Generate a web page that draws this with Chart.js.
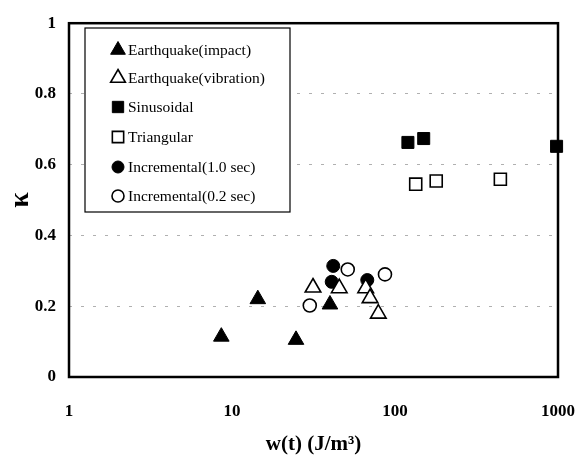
<!DOCTYPE html>
<html>
<head>
<meta charset="utf-8">
<script src="https://cdn.jsdelivr.net/npm/chart.js@4/dist/chart.umd.min.js"></script>
<style>
  html, body { margin: 0; padding: 0; background: #fff; }
  #wrap { width: 583px; height: 461px; }
</style>
</head>
<body>
<div id="wrap"><canvas id="kChart" width="583" height="461"></canvas></div>
<script>
// w(t) in J/m^3, kappa values
const quakeImpactW = [8.6, 14.4, 24.7, 39.9];
const quakeImpactK = [0.114, 0.220, 0.105, 0.205];
const quakeVibW = [31.4, 45.5, 66.1, 70.3, 79.0];
const quakeVibK = [0.253, 0.251, 0.251, 0.223, 0.179];
const sineW = [120, 150, 980];
const sineK = [0.663, 0.674, 0.652];
const triW = [134, 179, 443];
const triK = [0.545, 0.554, 0.559];
const incr10W = [41.8, 40.9, 67.6];
const incr10K = [0.314, 0.269, 0.274];
const incr02W = [30.0, 51.3, 86.8];
const incr02K = [0.202, 0.304, 0.290];

const xTicks = [1, 10, 100, 1000];
const yTicks = [0, 0.2, 0.4, 0.6, 0.8, 1];

function pts(xs, ys) {
    return xs.map((x, i) => ({ x: x, y: ys[i] }));
}

function series(label, xs, ys, style, filled, radius) {
    return {
        label: label,
        data: pts(xs, ys),
        pointStyle: style,
        pointRadius: radius,
        pointHoverRadius: radius,
        pointBackgroundColor: filled ? '#000' : '#fff',
        pointBorderColor: '#000',
        pointBorderWidth: filled ? 1 : 1.6,
        showLine: false,
        clip: false
    };
}

const frameAndLegend = {
    id: 'frameAndLegend',
    beforeDatasetsDraw(chart) {
        const a = chart.chartArea;
        const ctx = chart.ctx;
        ctx.save();
        ctx.strokeStyle = '#000';
        ctx.lineWidth = 2.5;
        ctx.strokeRect(a.left, a.top, a.right - a.left, a.bottom - a.top);
        ctx.restore();
    },
    afterDatasetsDraw(chart) {
        const ctx = chart.ctx;
        ctx.save();
        ctx.fillStyle = '#fff';
        ctx.fillRect(85, 28, 205, 184);
        ctx.strokeStyle = '#000';
        ctx.lineWidth = 1.2;
        ctx.strokeRect(85, 28, 205, 184);
        ctx.font = '15.5px "Liberation Serif", "Times New Roman", serif';
        ctx.textBaseline = 'middle';
        const rows = [50, 78, 107, 137, 167, 196];
        chart.data.datasets.forEach((ds, i) => {
            const y = rows[i];
            ctx.fillStyle = ds.pointBackgroundColor;
            ctx.strokeStyle = '#000';
            ctx.lineWidth = ds.pointBorderWidth;
            const r = ds.pointStyle === 'rect' ? 8 : (ds.pointStyle === 'circle' ? 6 : 8.5);
            Chart.helpers.drawPoint(ctx, { pointStyle: ds.pointStyle, radius: r, rotation: 0, borderWidth: ds.pointBorderWidth }, 118, y);
            ctx.fillStyle = '#000';
            ctx.fillText(ds.label, 128, y + 1);
        });
        ctx.restore();
    }
};

new Chart(document.getElementById('kChart').getContext('2d'), {
    type: 'scatter',
    data: {
        datasets: [
            series('Earthquake(impact)', quakeImpactW, quakeImpactK, 'triangle', true, 9),
            series('Earthquake(vibration)', quakeVibW, quakeVibK, 'triangle', false, 9),
            series('Sinusoidal', sineW, sineK, 'rect', true, 8.5),
            series('Triangular', triW, triK, 'rect', false, 8.5),
            series('Incremental(1.0 sec)', incr10W, incr10K, 'circle', true, 6.5),
            series('Incremental(0.2 sec)', incr02W, incr02K, 'circle', false, 6.5)
        ]
    },
    options: {
        responsive: false,
        animation: false,
        layout: { padding: { top: 17, right: 25, left: 0, bottom: 0 } },
        plugins: { legend: { display: false }, tooltip: { enabled: false } },
        scales: {
            x: {
                type: 'logarithmic',
                min: 1,
                max: 1000,
                afterBuildTicks(axis) { axis.ticks = xTicks.map(v => ({ value: v })); },
                afterFit(axis) {
                    axis.height = 84;
                    axis.paddingLeft = 0;
                    axis.paddingRight = 0;
                },
                grid: { display: false, drawTicks: false },
                border: { display: false },
                ticks: {
                    padding: 24,
                    color: '#000',
                    maxRotation: 0,
                    font: { family: '"Liberation Serif", serif', size: 17, weight: 'bold' },
                    callback: v => String(v)
                },
                title: {
                    display: true,
                    text: 'w(t) (J/m³)',
                    color: '#000',
                    padding: { top: 12 },
                    font: { family: '"Liberation Serif", serif', size: 21, weight: 'bold' }
                }
            },
            y: {
                min: 0,
                max: 1,
                afterBuildTicks(axis) { axis.ticks = yTicks.map(v => ({ value: v })); },
                afterFit(axis) { axis.width = 69; },
                grid: {
                    drawTicks: false,
                    color: ctx => (ctx.tick && (ctx.tick.value === 0 || ctx.tick.value === 1)) ? 'rgba(0,0,0,0)' : '#b0b0b0',
                    lineWidth: 1
                },
                border: { display: false, dash: [3, 9] },
                ticks: {
                    padding: 13,
                    color: '#000',
                    font: { family: '"Liberation Serif", serif', size: 17, weight: 'bold' },
                    callback: v => String(v)
                },
                title: {
                    display: true,
                    text: 'κ',
                    color: '#000',
                    padding: { bottom: 0 },
                    font: { family: '"Liberation Serif", serif', size: 28, weight: 'bold' }
                }
            }
        }
    },
    plugins: [frameAndLegend]
});
</script>
</body>
</html>
